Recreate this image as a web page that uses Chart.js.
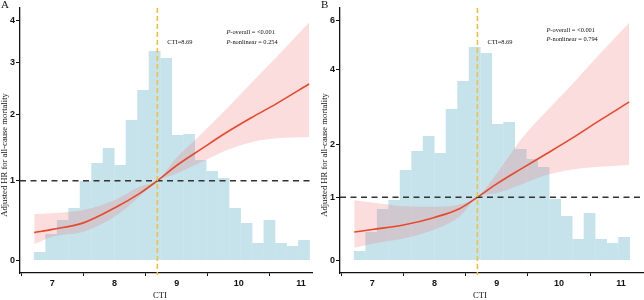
<!DOCTYPE html>
<html>
<head>
<meta charset="utf-8">
<script src="https://cdn.jsdelivr.net/npm/chart.js@4.4.1/dist/chart.umd.min.js"></script>
<style>
  html, body { margin: 0; padding: 0; background: #fff; }
  #wrap { position: relative; width: 644px; height: 300px; overflow: hidden; }
  .panel { position: absolute; top: 0; }
  #panelA { left: 0; }
  #panelB { left: 320px; }
</style>
</head>
<body>
<div id="wrap">
  <div class="panel" id="panelA"><canvas id="chartA" width="322" height="300"></canvas></div>
  <div class="panel" id="panelB"><canvas id="chartB" width="324" height="300"></canvas></div>
</div>

<script>
  // x axis (CTI)
  const ctiTicks = [7, 8, 9, 10, 11];
  const cutoff = 8.69;

  // histogram of CTI (bin centres, relative frequency in arbitrary units)
  const binCenters = [6.798, 6.983, 7.168, 7.353, 7.537, 7.722, 7.907, 8.092, 8.276, 8.461, 8.646, 8.831,
                      9.015, 9.200, 9.385, 9.570, 9.754, 9.939, 10.124, 10.309, 10.493, 10.678, 10.863, 11.048];
  const histA = [8, 26, 40, 52, 79, 97, 112, 95, 140, 170, 209, 202, 125, 126, 100, 89, 82, 52, 37, 17, 40, 17, 14, 20];
  const histB = [9, 28, 51, 60, 90, 109, 124, 107, 151, 179, 213, 207, 136, 138, 111, 101, 93, 61, 44, 21, 47, 21, 17, 23];

  // restricted cubic spline: HR with 95% CI
  const curveX = [6.71, 7.0, 7.5, 8.0, 8.4, 8.69, 9.0, 9.4, 9.8, 10.2, 10.6, 11.13];
  const hrA    = [0.34, 0.38, 0.46, 0.645, 0.83, 1.0, 1.21, 1.45, 1.70, 1.94, 2.18, 2.55];
  const lowA   = [0.20, 0.29, 0.35, 0.535, 0.79, 1.0, 1.10, 1.26, 1.43, 1.55, 1.61, 1.63];
  const upA    = [0.57, 0.58, 0.62, 0.745, 0.92, 1.0, 1.32, 1.68, 2.09, 2.57, 3.10, 3.95];
  const hrB    = [0.44, 0.48, 0.55, 0.67, 0.81, 1.0, 1.23, 1.51, 1.80, 2.12, 2.49, 3.02];
  const lowB   = [0.20, 0.26, 0.34, 0.48, 0.68, 1.0, 1.07, 1.22, 1.39, 1.49, 1.54, 1.58];
  const upB    = [0.95, 0.91, 0.85, 0.84, 0.88, 1.0, 1.42, 2.12, 2.77, 3.50, 4.42, 5.87];

  const yTicksA = [0, 1, 2, 3, 4];
  const yTicksB = [0, 1, 2, 4, 6];

  const histColor = "rgb(198,227,236)";
  const bandColor = "rgba(240,120,120,0.25)";
  const lineColor = "#E8482B";
  const serif = "'Liberation Serif', 'Times New Roman', serif";

  Chart.defaults.font.family = "'Liberation Sans', Arial, sans-serif";

  // pseudo-log axis (asinh(x/2)), like ggplot's pseudo_log_trans
  class PseudoLogScale extends Chart.LinearScale {
    static id = "pseudoLog";
    static defaults = Chart.LinearScale.defaults;
    tf(v) { return Math.asinh(v / 2); }
    getPixelForValue(value) {
      const lo = this.tf(this.min), hi = this.tf(this.max);
      return this.getPixelForDecimal((this.tf(value) - lo) / (hi - lo));
    }
    getValueForPixel(pixel) {
      const lo = this.tf(this.min), hi = this.tf(this.max);
      return 2 * Math.sinh(lo + this.getDecimalForPixel(pixel) * (hi - lo));
    }
  }
  Chart.register(PseudoLogScale);

  const decor = {
    id: "decor",
    afterDatasetsDraw(chart, args, opts) {
      const { ctx, chartArea: a } = chart;
      const xs = chart.scales.x, ys = chart.scales.y;
      ctx.save();
      // HR = 1 reference
      const y1 = ys.getPixelForValue(1);
      ctx.strokeStyle = "#333";
      ctx.lineWidth = 1.3;
      ctx.setLineDash([6, 4.5]);
      ctx.beginPath();
      ctx.moveTo(a.left, y1);
      ctx.lineTo(a.right + 1, y1);
      ctx.stroke();
      // cutoff
      const xc = xs.getPixelForValue(cutoff);
      ctx.strokeStyle = "#F5C136";
      ctx.lineWidth = 1.6;
      ctx.setLineDash([5, 3]);
      ctx.beginPath();
      ctx.moveTo(xc, a.top);
      ctx.lineTo(xc, a.bottom + 2);
      ctx.stroke();
      ctx.restore();
    },
    afterDraw(chart, args, opts) {
      const { ctx } = chart;
      const xs = chart.scales.x;
      ctx.save();
      ctx.fillStyle = "#111";

      // panel letter
      ctx.font = `11px ${serif}`;
      ctx.textAlign = "left";
      ctx.textBaseline = "top";
      ctx.fillText(opts.letter, 1, 0);
      ctx.textBaseline = "middle";

      // cutoff label
      ctx.font = `6.4px ${serif}`;
      ctx.fillText("CTI=" + cutoff.toFixed(2), xs.getPixelForValue(cutoff) + 10, opts.cutLabelY);

      // P values
      const px = xs.getPixelForValue(9.8);
      const rows = [["-overall = " + opts.pOverall, opts.pY[0]], ["-nonlinear = " + opts.pNonlinear, opts.pY[1]]];
      rows.forEach(([txt, y]) => {
        ctx.font = `italic 6.4px ${serif}`;
        ctx.fillText("P", px, y);
        const w = ctx.measureText("P").width;
        ctx.font = `6.4px ${serif}`;
        ctx.fillText(txt, px + w, y);
      });

      // axis titles
      ctx.font = `8.6px ${serif}`;
      ctx.textAlign = "center";
      ctx.fillText("CTI", 160, 295.5);
      ctx.translate(5, 155);
      ctx.rotate(-Math.PI / 2);
      ctx.fillText("Adjusted HR for all-cause mortality", 0, 0);
      ctx.restore();
    }
  };

  const tickFont = { size: 9, weight: "bold" };

  function makeChart(id, hist, hr, low, up, yTicks, yRange, xMax, padRight, decorOpts) {
    const pts = arr => curveX.map((x, i) => ({ x: x, y: arr[i] }));
    return new Chart(document.getElementById(id), {
      type: "line",
      data: {
        datasets: [
          {
            type: "bar",
            data: binCenters.map((x, i) => ({ x: x, y: hist[i] })),
            yAxisID: "yh",
            backgroundColor: histColor,
            borderWidth: 0,
            barPercentage: 1.03,
            categoryPercentage: 1.0,
            order: 4
          },
          {
            data: pts(low),
            yAxisID: "y",
            borderWidth: 0,
            pointRadius: 0,
            cubicInterpolationMode: "monotone",
            fill: false,
            order: 3
          },
          {
            data: pts(up),
            yAxisID: "y",
            borderWidth: 0,
            pointRadius: 0,
            cubicInterpolationMode: "monotone",
            backgroundColor: bandColor,
            fill: "-1",
            order: 2
          },
          {
            data: pts(hr),
            yAxisID: "y",
            borderColor: lineColor,
            borderWidth: 1.6,
            pointRadius: 0,
            cubicInterpolationMode: "monotone",
            fill: false,
            order: 1
          }
        ]
      },
      options: {
        responsive: false,
        animation: false,
        layout: { padding: { top: 8, right: padRight, bottom: 0, left: 0 } },
        plugins: {
          legend: { display: false },
          tooltip: { enabled: false },
          decor: decorOpts
        },
        scales: {
          x: {
            type: "linear",
            min: 6.481,
            max: xMax,
            offset: false,
            afterBuildTicks: s => { s.ticks = ctiTicks.map(v => ({ value: v })); },
            afterFit: s => { s.height = 27; },
            border: { display: true, color: "#111", width: 1.3 },
            grid: { display: true, drawOnChartArea: false, drawTicks: true, tickLength: 3, color: "#111" },
            ticks: { font: tickFont, color: "#111", padding: 2, maxRotation: 0, callback: v => String(v) }
          },
          y: {
            type: "pseudoLog",
            position: "left",
            min: yRange[0],
            max: yRange[1],
            afterBuildTicks: s => { s.ticks = yTicks.map(v => ({ value: v })); },
            afterFit: s => { s.width = 20; },
            border: { display: true, color: "#111", width: 1.3 },
            grid: { display: true, drawOnChartArea: false, drawTicks: true, tickLength: 4, color: "#111" },
            ticks: { font: tickFont, color: "#111", padding: 1, callback: v => String(v) }
          },
          yh: { type: "linear", display: false, min: -13, max: 252 }
        }
      },
      plugins: [decor]
    });
  }

  makeChart("chartA", histA, hrA, lowA, upA, yTicksA, [-0.147, 4.354], 11.177, 10,
    { letter: "A", pOverall: "<0.001", pNonlinear: "0.254", pY: [32.3, 42.7], cutLabelY: 42.7 });
  makeChart("chartB", histB, hrB, lowB, upB, yTicksB, [-0.1815, 6.6], 11.352, 1,
    { letter: "B", pOverall: "<0.001", pNonlinear: "0.794", pY: [30, 39.3], cutLabelY: 42 });
</script>
</body>
</html>
